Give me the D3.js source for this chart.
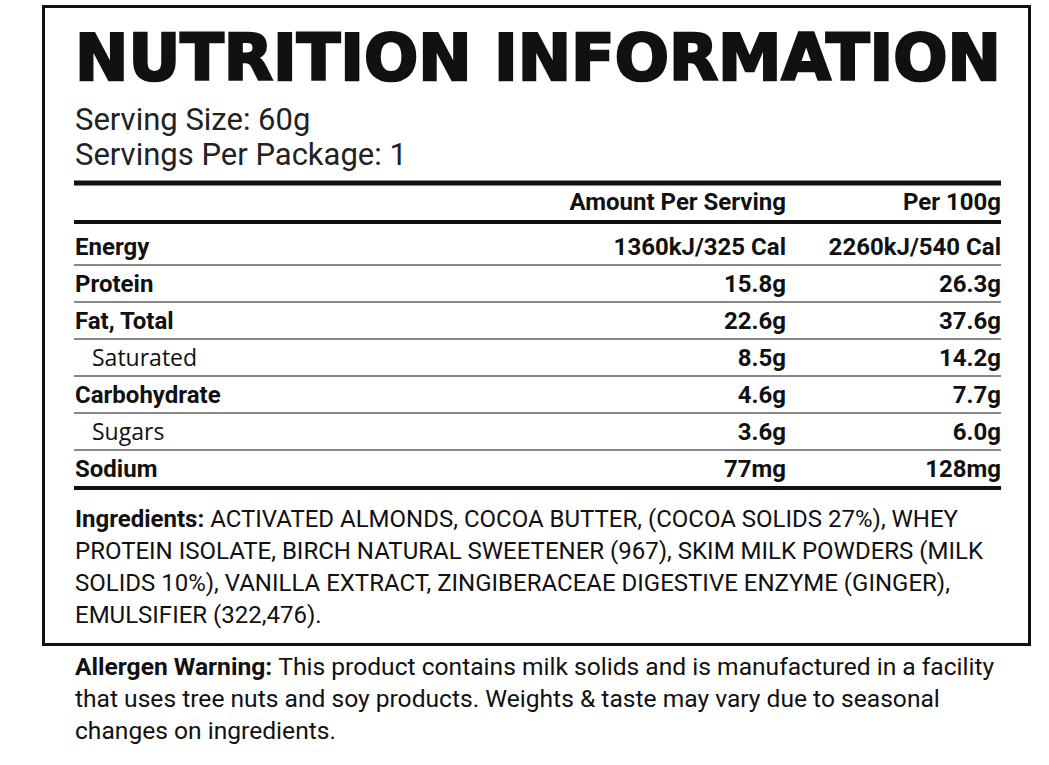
<!DOCTYPE html>
<html><head><meta charset="utf-8">
<script src="https://cdn.jsdelivr.net/npm/d3@7"></script>
<style>body{margin:0;background:#fff}</style>
</head><body>
<svg id="c" width="1049" height="765"></svg>
<script>
// Nutrition table values
var nutrients = ["Energy", "Protein", "Fat, Total", "Saturated", "Carbohydrate", "Sugars", "Sodium"];
var perServing = ["1360kJ/325 Cal", "15.8g", "22.6g", "8.5g", "4.6g", "3.6g", "77mg"];
var per100g = ["2260kJ/540 Cal", "26.3g", "37.6g", "14.2g", "7.7g", "6.0g", "128mg"];
var subItems = ["Saturated", "Sugars"];
var headers = ["Amount Per Serving", "Per 100g"];
var ingredientLines = [
  ["Ingredients: ", "ACTIVATED ALMONDS, COCOA BUTTER, (COCOA SOLIDS 27%), WHEY"],
  ["", "PROTEIN ISOLATE, BIRCH NATURAL SWEETENER (967), SKIM MILK POWDERS (MILK"],
  ["", "SOLIDS 10%), VANILLA EXTRACT, ZINGIBERACEAE DIGESTIVE ENZYME (GINGER),"],
  ["", "EMULSIFIER (322,476)."]
];
var allergenLines = [
  ["Allergen Warning: ", "This product contains milk solids and is manufactured in a facility"],
  ["", "that uses tree nuts and soy products. Weights & taste may vary due to seasonal"],
  ["", "changes on ingredients."]
];

var svg = d3.select("#c");
var narrow = "'Liberation Sans Narrow','Roboto','Liberation Sans',sans-serif";
var left = 74, right = 1001, col1 = 786;

// outer box
svg.append("rect").attr("x", 43.5).attr("y", 6.5).attr("width", 986).attr("height", 638)
  .attr("fill", "none").attr("stroke", "#111").attr("stroke-width", 3);

svg.append("text").attr("x", 75).attr("y", 80).attr("textLength", 926).attr("lengthAdjust", "spacingAndGlyphs")
  .style("font-family", "'DejaVu Sans',sans-serif").style("font-weight", 900).style("font-size", "64px")
  .attr("fill", "#111").attr("stroke", "#111").attr("stroke-width", 2.5).text("NUTRITION INFORMATION");

svg.append("text").attr("x", 75).attr("y", 130).style("font-family", narrow).style("font-size", "31px")
  .attr("fill", "#222").text("Serving Size: 60g");
svg.append("text").attr("x", 75).attr("y", 165).style("font-family", narrow).style("font-size", "31px")
  .attr("fill", "#222").text("Servings Per Package: 1");

function hline(y, w) {
  svg.append("line").attr("x1", left).attr("x2", right).attr("y1", y).attr("y2", y)
    .attr("stroke", "#111").attr("stroke-width", w);
}
hline(183, 5);
hline(222, 4);

svg.selectAll(".hd").data(headers).enter().append("text")
  .attr("x", (d, i) => i ? right : col1).attr("y", 210).attr("text-anchor", "end")
  .style("font-family", narrow).style("font-weight", "bold").style("font-size", "24px").attr("fill", "#111")
  .text(d => d);

var y = d3.scaleBand().domain(nutrients).range([228, 487]);

nutrients.forEach(function (n, i) {
  var by = y(n) + 27;
  var sub = subItems.indexOf(n) >= 0;
  svg.append("text").attr("x", sub ? 92 : 75).attr("y", by)
    .style("font-family", sub ? "'Open Sans',sans-serif" : narrow)
    .style("font-weight", sub ? "normal" : "bold").style("font-size", sub ? "23px" : "24px")
    .attr("fill", "#111").text(n);
  [perServing[i], per100g[i]].forEach(function (v, j) {
    svg.append("text").attr("x", j ? right : col1).attr("y", by).attr("text-anchor", "end")
      .style("font-family", narrow).style("font-weight", "bold").style("font-size", "24px")
      .attr("fill", "#111").text(v);
  });
  if (i < nutrients.length - 1) hline(y(n) + y.bandwidth(), 1);
});
hline(488, 4);

function para(lines, y0, size) {
  lines.forEach(function (l, i) {
    var t = svg.append("text").attr("x", 75).attr("y", y0 + i * 32)
      .style("font-family", narrow).style("font-size", size + "px").attr("fill", "#111");
    if (l[0]) t.append("tspan").style("font-weight", "bold").text(l[0]);
    t.append("tspan").text(l[1]);
  });
}
para(ingredientLines, 527, 24);
para(allergenLines, 675, 24.6);
</script>
</body></html>
